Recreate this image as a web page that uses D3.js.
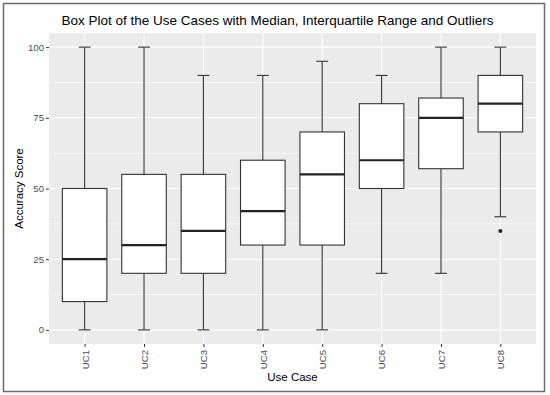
<!DOCTYPE html>
<html>
<head>
<meta charset="utf-8">
<script src="https://cdn.jsdelivr.net/npm/d3@7"></script>
<style>
  html, body { margin: 0; padding: 0; background: #fff; }
  svg { display: block; font-family: "Liberation Sans", Arial, sans-serif; }
</style>
</head>
<body>
<svg id="chart" width="550" height="395"></svg>
<script>
const categories = ["UC1", "UC2", "UC3", "UC4", "UC5", "UC6", "UC7", "UC8"];
const whiskerLow = [0, 0, 0, 0, 0, 20, 20, 40];
const q1Values = [10, 20, 20, 30, 30, 50, 57, 70];
const medians = [25, 30, 35, 42, 55, 60, 75, 80];
const q3Values = [50, 55, 55, 60, 70, 80, 82, 90];
const whiskerHigh = [100, 100, 90, 90, 95, 90, 100, 100];
const outliers = [{ cat: "UC8", value: 35 }];
const yTicks = [0, 25, 50, 75, 100];
const yMinorTicks = [12.5, 37.5, 62.5, 87.5];

const svg = d3.select("#chart");
const W = 550, H = 395;
const panel = { left: 49, top: 33, right: 536, bottom: 344 };

// outer frame
svg.append("rect").attr("x", 3.5).attr("y", 3.5).attr("width", 541).attr("height", 388)
  .attr("fill", "#fff").attr("stroke", "#6b6b6b").attr("stroke-width", 1.5);

const y = d3.scaleLinear().domain([-5, 105]).range([panel.bottom, panel.top]);
const x = d3.scaleBand().domain(categories)
  .range([panel.left, panel.right]).paddingOuter(0.1).paddingInner(0);
// ggplot discrete: 0.6 expansion each side; band centers
const step = (panel.right - panel.left) / (categories.length - 1 + 1.2);
const xc = d => panel.left + 0.6 * step + categories.indexOf(d) * step;

const g = svg.append("g");
g.append("rect").attr("x", panel.left).attr("y", panel.top)
  .attr("width", panel.right - panel.left).attr("height", panel.bottom - panel.top)
  .attr("fill", "#EBEBEB");

// minor grid
g.selectAll(".ymin").data(yMinorTicks).join("line")
  .attr("x1", panel.left).attr("x2", panel.right)
  .attr("y1", d => y(d)).attr("y2", d => y(d))
  .attr("stroke", "#fff").attr("stroke-width", 0.6);
// major grid
g.selectAll(".ymaj").data(yTicks).join("line")
  .attr("x1", panel.left).attr("x2", panel.right)
  .attr("y1", d => y(d)).attr("y2", d => y(d))
  .attr("stroke", "#fff").attr("stroke-width", 1.1);
g.selectAll(".xmaj").data(categories).join("line")
  .attr("x1", d => xc(d)).attr("x2", d => xc(d))
  .attr("y1", panel.top).attr("y2", panel.bottom)
  .attr("stroke", "#fff").attr("stroke-width", 1.1);

// Axes via d3 axis
const yAxis = d3.axisLeft(y).tickValues(yTicks).tickSize(3).tickPadding(2);
const ya = svg.append("g").attr("transform", `translate(${panel.left},0)`).call(yAxis);
ya.select(".domain").remove();
ya.selectAll(".tick line").attr("stroke", "#333").attr("stroke-width", 1);
ya.selectAll(".tick text").attr("fill", "#4D4D4D").style("font-size", "9.6px")
  .style("font-family", "Liberation Sans, Arial, sans-serif");

const xPoint = d3.scalePoint().domain(categories)
  .range([xc(categories[0]), xc(categories[categories.length - 1])]);
const xAxis = d3.axisBottom(xPoint).tickSize(3).tickPadding(2);
const xa = svg.append("g").attr("transform", `translate(0,${panel.bottom})`).call(xAxis);
xa.select(".domain").remove();
xa.selectAll(".tick line").attr("stroke", "#333").attr("stroke-width", 1);
xa.selectAll(".tick text").attr("fill", "#4D4D4D").style("font-size", "9.6px")
  .style("font-family", "Liberation Sans, Arial, sans-serif")
  .attr("transform", "rotate(-90)")
  .attr("text-anchor", "end").attr("x", -6).attr("y", 0).attr("dy", "0.35em");

// boxes
const data = categories.map((c, i) => ({
  cat: c, lo: whiskerLow[i], q1: q1Values[i], med: medians[i], q3: q3Values[i], hi: whiskerHigh[i]
}));
const bw = 0.75 * step, cw = 0.2 * step;
const stroke = "#333333";
const bx = g.selectAll(".box").data(data).join("g");
// whiskers
bx.append("line").attr("x1", d => xc(d.cat)).attr("x2", d => xc(d.cat))
  .attr("y1", d => y(d.hi)).attr("y2", d => y(d.q3)).attr("stroke", stroke).attr("stroke-width", 1.1);
bx.append("line").attr("x1", d => xc(d.cat)).attr("x2", d => xc(d.cat))
  .attr("y1", d => y(d.q1)).attr("y2", d => y(d.lo)).attr("stroke", stroke).attr("stroke-width", 1.1);
// caps
bx.append("line").attr("x1", d => xc(d.cat) - cw / 2).attr("x2", d => xc(d.cat) + cw / 2)
  .attr("y1", d => y(d.hi)).attr("y2", d => y(d.hi)).attr("stroke", stroke).attr("stroke-width", 1.1);
bx.append("line").attr("x1", d => xc(d.cat) - cw / 2).attr("x2", d => xc(d.cat) + cw / 2)
  .attr("y1", d => y(d.lo)).attr("y2", d => y(d.lo)).attr("stroke", stroke).attr("stroke-width", 1.1);
// box
bx.append("rect").attr("x", d => xc(d.cat) - bw / 2).attr("width", bw)
  .attr("y", d => y(d.q3)).attr("height", d => y(d.q1) - y(d.q3))
  .attr("fill", "#fff").attr("stroke", stroke).attr("stroke-width", 1.1);
// median
bx.append("line").attr("x1", d => xc(d.cat) - bw / 2).attr("x2", d => xc(d.cat) + bw / 2)
  .attr("y1", d => y(d.med)).attr("y2", d => y(d.med)).attr("stroke", "#222").attr("stroke-width", 2.2);

// outliers
g.selectAll(".out").data(outliers).join("circle")
  .attr("cx", d => xc(d.cat)).attr("cy", d => y(d.value)).attr("r", 2)
  .attr("fill", "#222");

// titles
svg.append("text").attr("x", 277.5).attr("y", 25).attr("text-anchor", "middle")
  .style("font-size", "13.5px").attr("fill", "#000")
  .text("Box Plot of the Use Cases with Median, Interquartile Range and Outliers");
svg.append("text").attr("x", (panel.left + panel.right) / 2).attr("y", 381).attr("text-anchor", "middle")
  .style("font-size", "11.5px").attr("fill", "#000").text("Use Case");
svg.append("text").attr("transform", `translate(23,${(panel.top + panel.bottom) / 2}) rotate(-90)`)
  .attr("text-anchor", "middle").style("font-size", "11.5px").attr("fill", "#000").text("Accuracy Score");
</script>
</body>
</html>
